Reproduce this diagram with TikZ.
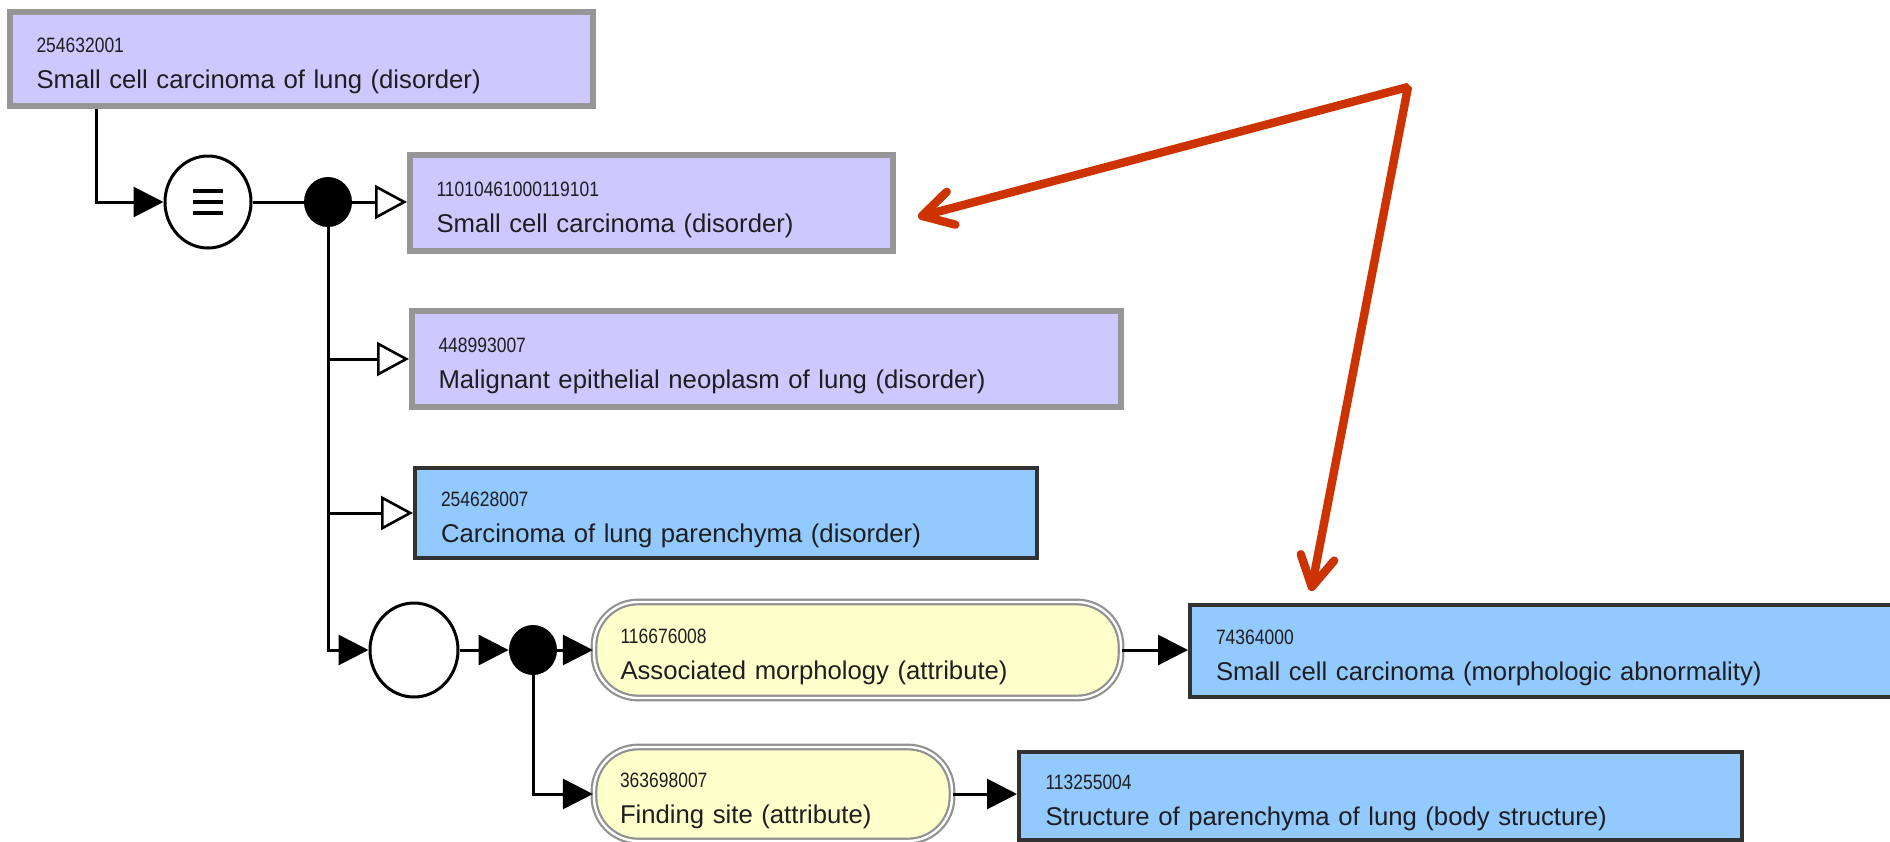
\documentclass[tikz,border=0pt]{standalone}
\usepackage{fontspec}
\setmainfont{Liberation Sans}
\newfontfamily\idfont[FakeStretch=0.84]{Liberation Sans}
\usetikzlibrary{arrows.meta,shapes.geometric,calc}

\definecolor{lav}{RGB}{205,200,255}
\definecolor{lavedge}{RGB}{150,150,150}
\definecolor{skyb}{RGB}{146,201,255}
\definecolor{skyedge}{RGB}{50,50,50}
\definecolor{pale}{RGB}{255,255,204}
\definecolor{paleedge}{RGB}{145,145,145}
\definecolor{ink}{RGB}{30,30,30}
\definecolor{callout}{RGB}{204,51,0}

% concept identifier line; the strut keeps the two text lines low in the box
\newcommand{\conceptid}[1]{\rule{0pt}{14pt}{\idfont\fontsize{10.4}{11}\selectfont #1}}

\begin{document}
\begin{tikzpicture}[x=0.5pt,y=-0.5pt,
  concept/.style={rectangle, anchor=center, inner xsep=0pt, inner ysep=0pt,
    align=left, text=ink, font=\fontsize{12.85}{15}\selectfont},
  disbox/.style={concept, fill=lav, draw=lavedge, line width=3pt},
  bluebox/.style={concept, fill=skyb, draw=skyedge, line width=2pt},
  attrbox/.style={concept, fill=pale, draw=paleedge, double=white,
    double distance=1.2pt, line width=1.1pt, rounded corners=22pt},
  operator/.style={ellipse, draw=black, fill=white, line width=1.5pt, inner sep=0pt},
  joint/.style={ellipse, fill=black, inner sep=0pt, minimum width=24pt, minimum height=25pt},
  link/.style={draw=black, line width=1.5pt},
  isa/.style={link, -{Triangle[open, length=16pt, width=17pt, fill=white, line width=1.3pt]}},
  rel/.style={link, -{Triangle[length=15pt, width=15pt]}},
  pointer/.style={draw=callout, line width=4.2pt, line join=bevel,
    {Straight Barb[length=15pt, width=17pt, round]}-{Straight Barb[length=15pt, width=17pt, round]}}
]
\useasboundingbox (0,0) rectangle (1890,841);

% concept boxes
\node[disbox, minimum width=291.5pt, minimum height=47pt, text width=265pt] (b1) at (301.5,59)
  {\conceptid{254632001}\\[3pt]Small cell carcinoma of lung (disorder)};
\node[disbox, minimum width=241.5pt, minimum height=48pt, text width=215pt] (b2) at (651.5,203)
  {\conceptid{11010461000119101}\\[3pt]Small cell carcinoma (disorder)};
\node[disbox, minimum width=354.5pt, minimum height=48pt, text width=328pt] (b3) at (766.5,359)
  {\conceptid{448993007}\\[3pt]Malignant epithelial neoplasm of lung (disorder)};
\node[bluebox, minimum width=311pt, minimum height=45pt, text width=285pt] (b4) at (726,513)
  {\conceptid{254628007}\\[3pt]Carcinoma of lung parenchyma (disorder)};
\node[attrbox, minimum width=263.5pt, minimum height=48pt, text width=237pt] (y1) at (857.5,650)
  {\conceptid{116676008}\\[3pt]Associated morphology (attribute)};
\node[bluebox, minimum width=355pt, minimum height=46pt, text width=329pt] (b5) at (1545,651)
  {\conceptid{74364000}\\[3pt]Small cell carcinoma (morphologic abnormality)};
\node[attrbox, minimum width=179pt, minimum height=47pt, text width=153pt] (y2) at (773,794)
  {\conceptid{363698007}\\[3pt]Finding site (attribute)};
\node[bluebox, minimum width=361.5pt, minimum height=44pt, text width=335pt] (b6) at (1380.5,796)
  {\conceptid{113255004}\\[3pt]Structure of parenchyma of lung (body structure)};

% definition operators and junctions
\node[operator, minimum width=43pt, minimum height=46pt] (c1) at (208,202) {};
\draw[line width=1.8pt] ([shift={(-15,-11)}]c1.center) -- ++(30,0)
                        ([shift={(-15,0)}]c1.center) -- ++(30,0)
                        ([shift={(-15,11)}]c1.center) -- ++(30,0);
\node[joint] (d1) at (328,202) {};
\node[operator, minimum width=44pt, minimum height=47pt] (c2) at (414,650) {};
\node[joint] (d2) at (533,650) {};

\coordinate (k1) at (96,0);

% connectors
\draw[rel] (b1.south -| k1) |- (c1.west);
\draw[link] (c1) -- (d1);
\draw[isa] (d1) -- (b2.west |- d1);
\draw[isa] (d1 |- b3.west) -- (b3.west);
\draw[isa] (d1 |- b4.west) -- (b4.west);
\draw[rel] (d1) |- (c2.west);
\draw[rel] (c2) -- (d2);
\draw[rel] (d2) -- (y1.west |- d2);
\draw[rel] (y1.east) -- (y1.east -| b5.west);
\draw[rel] (d2) |- (y2.west);
\draw[rel] (y2.east) -- (y2.east -| b6.west);

% callout arrows
\coordinate (apex) at (1408,87);
\coordinate (tipa) at (918,217);
\coordinate (tipb) at (1311,591);
\draw[pointer] (tipa) -- (apex) -- (tipb);
\end{tikzpicture}
\end{document}
